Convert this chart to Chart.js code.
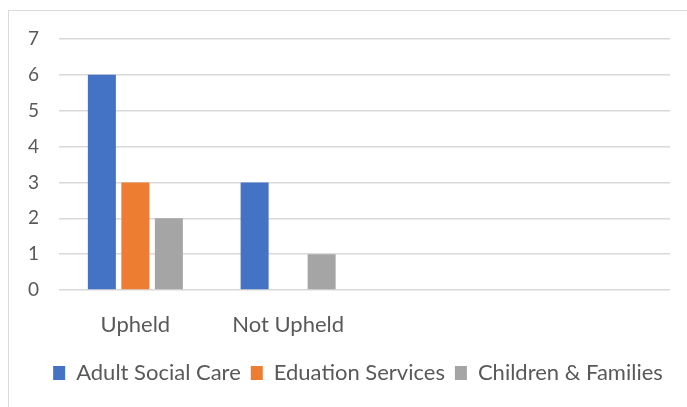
<!DOCTYPE html>
<html>
<head>
<meta charset="utf-8">
<script src="https://cdn.jsdelivr.net/npm/chart.js@4"></script>
<style>
  html, body { margin: 0; padding: 0; background: #fff; }
  #wrap { position: relative; width: 687px; height: 407px; overflow: hidden; }
  #frame { position: absolute; left: 8px; top: 10px; width: 700px; height: 420px;
           border-left: 1.5px solid #d9d9d9; border-top: 1.5px solid #d9d9d9; }
  canvas { position: absolute; left: 0; top: 0; }
</style>
</head>
<body>
<div id="wrap">
  <div id="frame"></div>
  <canvas id="grafica" width="687" height="407"></canvas>
</div>
<script>
const categories = ['Upheld', 'Not Upheld', '', ''];
const seriesNames = ['Adult Social Care', 'Eduation Services', 'Children & Families'];
const adultSocialCare = [6, 3, null, null];
const educationServices = [3, 0, null, null];
const childrenFamilies = [2, 1, null, null];
const yTicks = [0, 1, 2, 3, 4, 5, 6, 7];

const colores = ['#4472C4', '#ED7D31', '#A5A5A5'];
const txt = '#595959';
const fuente = 'Lato';

// the legend in the original sits a bit right of the canvas centre
const moverLeyenda = {
  id: 'moverLeyenda',
  afterLayout(chart) {
    const lg = chart.legend;
    if (lg) { lg.left += 23; lg.right += 23; }
  }
};

new Chart(document.getElementById('grafica'), {
  type: 'bar',
  data: {
    labels: categories,
    datasets: [adultSocialCare, educationServices, childrenFamilies].map((d, i) => ({
      label: seriesNames[i],
      data: d,
      backgroundColor: colores[i],
      borderWidth: 0,
      categoryPercentage: 0.658,
      barPercentage: 0.836
    }))
  },
  plugins: [moverLeyenda],
  options: {
    responsive: false,
    animation: false,
    devicePixelRatio: 1,
    layout: { padding: { top: 39, right: 17, left: 0, bottom: 13 } },
    plugins: {
      tooltip: { enabled: false },
      legend: {
        position: 'bottom',
        labels: {
          boxWidth: 12,
          boxHeight: 14,
          padding: 10,
          color: txt,
          font: { family: fuente, size: 22 }
        }
      }
    },
    scales: {
      x: {
        grid: { display: false },
        border: { display: false },
        ticks: { color: txt, padding: 14, maxRotation: 0, font: { family: fuente, size: 22 } },
        afterFit: (s) => { s.height = 62; }
      },
      y: {
        min: 0,
        max: 7,
        afterBuildTicks: (s) => { s.ticks = yTicks.map(v => ({ value: v })); },
        grid: { color: '#d9d9d9', lineWidth: 1.5, drawTicks: false },
        border: { display: false },
        ticks: { color: txt, padding: 20, font: { family: fuente, size: 19 } },
        afterFit: (s) => { s.width = 59; }
      }
    }
  }
});
</script>
</body>
</html>
